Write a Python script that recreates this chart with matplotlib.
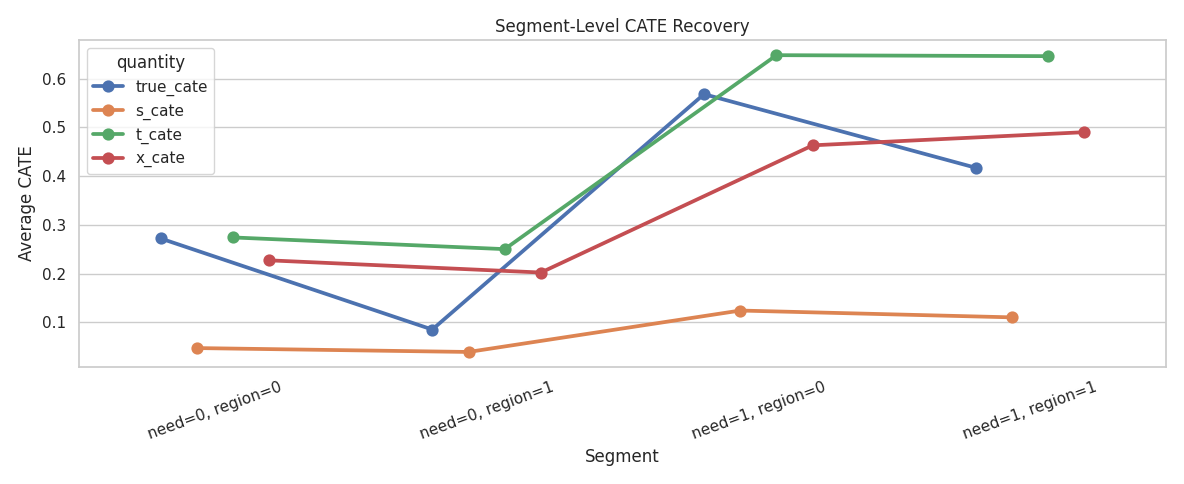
import pandas as pd
import seaborn as sns
import matplotlib
matplotlib.use("Agg")
from matplotlib import pyplot as plt

segments = ["need=0, region=0", "need=0, region=1", "need=1, region=0", "need=1, region=1"]
true_cate = [0.272, 0.085, 0.568, 0.417]
s_cate = [0.047, 0.039, 0.124, 0.110]
t_cate = [0.274, 0.250, 0.648, 0.646]
x_cate = [0.227, 0.202, 0.463, 0.490]

rows = []
for name, vals in [("true_cate", true_cate), ("s_cate", s_cate), ("t_cate", t_cate), ("x_cate", x_cate)]:
    for seg, v in zip(segments, vals):
        rows.append({"segment": seg, "quantity": name, "value": v})
df = pd.DataFrame(rows)

sns.set_theme(style="whitegrid")
fig, ax = plt.subplots(figsize=(11.84, 4.84), dpi=100)
sns.pointplot(data=df, x="segment", y="value", hue="quantity", dodge=0.4, ax=ax)
ax.set_title("Segment-Level CATE Recovery")
ax.set_xlabel("Segment")
ax.set_ylabel("Average CATE")
plt.setp(ax.get_xticklabels(), rotation=20)
plt.tight_layout()
plt.savefig("out.png")
